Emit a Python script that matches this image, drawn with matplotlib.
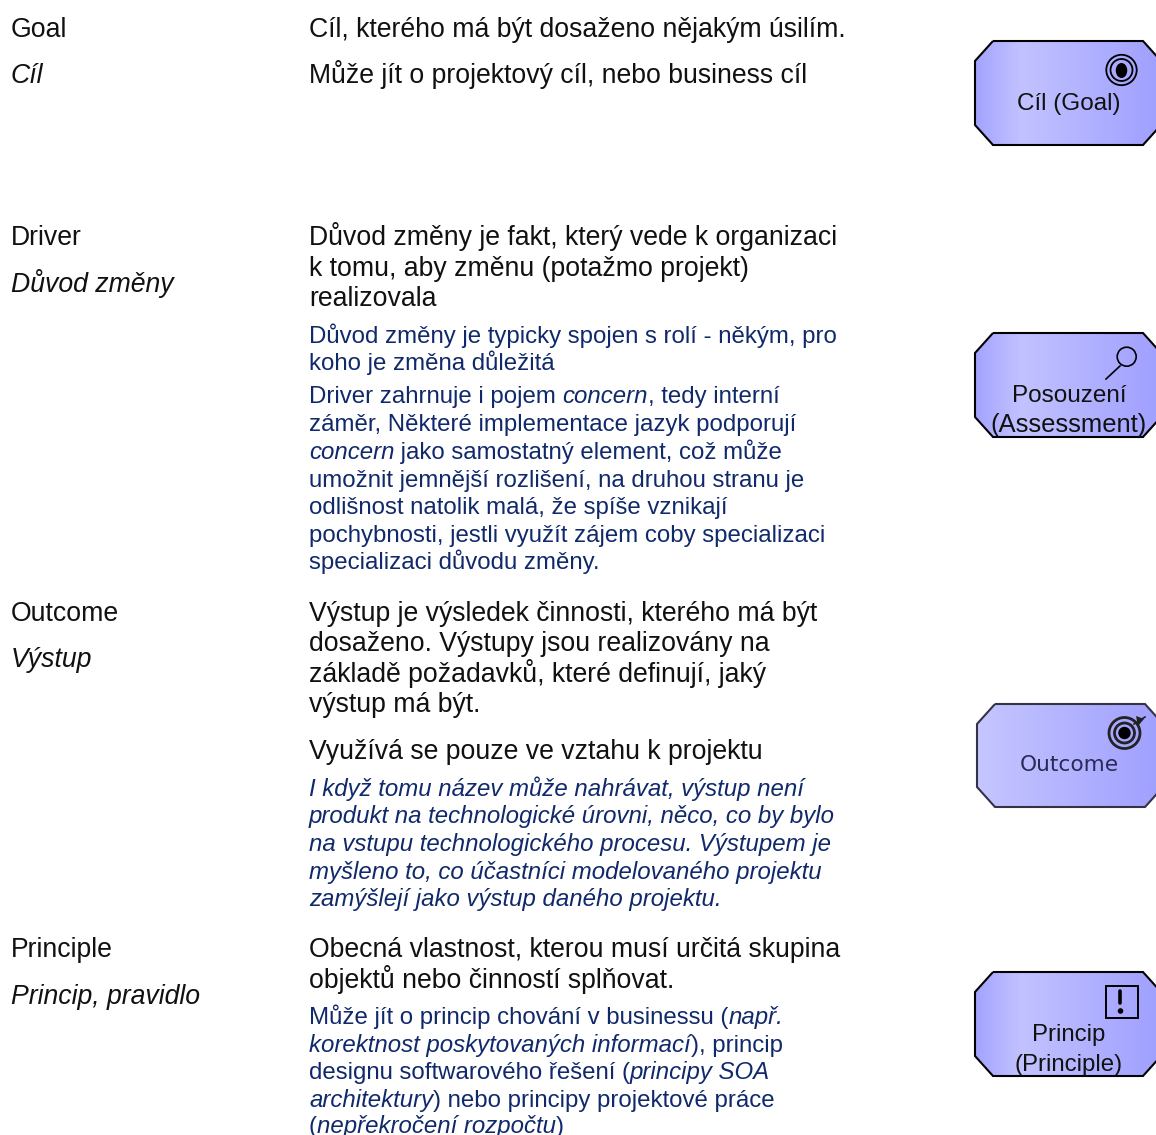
import matplotlib
matplotlib.use("Agg")
import matplotlib.pyplot as plt
import numpy as np
from matplotlib.colors import LinearSegmentedColormap
from matplotlib.patches import Circle, Ellipse, Polygon, Rectangle

W, H = 1156, 1135
NAVY = "#10296b"
BIG = 26.6
SMALL = 24.0
plt.rcParams["font.family"] = ["Liberation Sans", "DejaVu Sans"]

# left column: term and its czech name
terms = ["Goal", "Driver", "Outcome", "Principle"]
terms_cz = ["Cíl", "Důvod změny", "Výstup", "Princip, pravidlo"]
term_y = [37, 245, 621, 957]
term_cz_y = [83, 292, 667, 1004]

# right column, black lines
big_lines = ["Cíl, kterého má být dosaženo nějakým úsilím.",
             "Může jít o projektový cíl, nebo business cíl",
             "Důvod změny je fakt, který vede k organizaci",
             "k tomu, aby změnu (potažmo projekt)",
             "realizovala",
             "Výstup je výsledek činnosti, kterého má být",
             "dosaženo. Výstupy jsou realizovány na",
             "základě požadavků, které definují, jaký",
             "výstup má být.",
             "Využívá se pouze ve vztahu k projektu",
             "Obecná vlastnost, kterou musí určitá skupina",
             "objektů nebo činností splňovat."]
big_y = [37, 83, 245, 276, 306, 621, 651, 682, 712, 759, 957, 988]

# right column, small blue lines as (text, italic) runs
small_lines = [
    [("Důvod změny je typicky spojen s rolí - někým, pro", False)],
    [("koho je změna důležitá", False)],
    [("Driver zahrnuje i pojem ", False), ("concern", True), (", tedy interní", False)],
    [("záměr, Některé implementace jazyk podporují", False)],
    [("concern", True), (" jako samostatný element, což může", False)],
    [("umožnit jemnější rozlišení, na druhou stranu je", False)],
    [("odlišnost natolik malá, že spíše vznikají", False)],
    [("pochybnosti, jestli využít zájem coby specializaci", False)],
    [("specializaci důvodu změny.", False)],
    [("I když tomu název může nahrávat, výstup není", True)],
    [("produkt na technologické úrovni, něco, co by bylo", True)],
    [("na vstupu technologického procesu. Výstupem je", True)],
    [("myšleno to, co účastníci modelovaného projektu", True)],
    [("zamýšlejí jako výstup daného projektu.", True)],
    [("Může jít o princip chování v businessu (", False), ("např.", True)],
    [("korektnost poskytovaných informací", True), ("), princip", False)],
    [("designu softwarového řešení (", False), ("principy SOA", True)],
    [("architektury", True), (") nebo principy projektové práce", False)],
    [("(", False), ("nepřekročení rozpočtu", True), (")", False)],
]
small_y = [343, 370, 403, 431, 459, 487, 514, 542, 569,
           796, 823, 851, 879, 906, 1024, 1052, 1079, 1107, 1133]

# element boxes on the right
box_left = [975, 975, 977, 975]
box_top = [41, 333, 704, 972]
box_bottom = [145, 437, 807, 1076]
box_labels = [["Cíl (Goal)"], ["Posouzení", "(Assessment)"], ["Outcome"], ["Princip", "(Principle)"]]
label_y = [[110], [402, 432], [771], [1041, 1071]]
label_size = [[24.3], [24.3, 25.6], [21.6], [24.0, 24.0]]

fig = plt.figure(figsize=(W / 100, H / 100), dpi=100)
ax = fig.add_axes([0, 0, 1, 1])
ax.set_xlim(0, W)
ax.set_ylim(H, 0)
ax.axis("off")


def px(size):
    return size * 72 / 100


for name, y in zip(terms, term_y):
    ax.text(11, y, name, fontsize=px(BIG), va="baseline", color="#111111")
for name, y in zip(terms_cz, term_cz_y):
    ax.text(11, y, name, fontsize=px(BIG), va="baseline", style="italic", color="#111111")
for line, y in zip(big_lines, big_y):
    ax.text(309, y, line, fontsize=px(BIG), va="baseline", color="#111111")

fig.canvas.draw()
renderer = fig.canvas.get_renderer()
for runs, y in zip(small_lines, small_y):
    x = 309.0
    for txt, italic in runs:
        st = "italic" if italic else "normal"
        ax.text(x, y, txt, fontsize=px(SMALL), va="baseline", color=NAVY, style=st)
        # trailing spaces are not in the bbox, so measure with a marker
        probe = ax.text(0, 0, txt + "|", fontsize=px(SMALL), style=st)
        bar = ax.text(0, 0, "|", fontsize=px(SMALL), style=st)
        x += probe.get_window_extent(renderer).width - bar.get_window_extent(renderer).width
        probe.remove()
        bar.remove()

cmap_a = LinearSegmentedColormap.from_list("a", [(0, "#a3a3ff"), (0.25, "#c2c2ff"), (1, "#9f9fff")])
cmap_b = LinearSegmentedColormap.from_list("b", [(0, "#c6c6ff"), (1, "#9f9fff")])
grad = np.linspace(0, 1, 256).reshape(1, -1)

for i, (left, top, bottom) in enumerate(zip(box_left, box_top, box_bottom)):
    right = left + 186
    pts = [(left + 18, top), (right - 18, top), (right, top + 20), (right, bottom - 20),
           (right - 18, bottom), (left + 18, bottom), (left, bottom - 20), (left, top + 20)]
    edge = "#333344" if i == 2 else "black"
    ax.add_patch(Polygon(pts, closed=True, fc="none", ec=edge, lw=1.5, zorder=3))
    im = ax.imshow(grad, extent=[left, right, bottom, top], aspect="auto",
                   cmap=cmap_b if i == 2 else cmap_a, zorder=2)
    im.set_clip_path(Polygon(pts, closed=True, transform=ax.transData))
    for lab, y, size in zip(box_labels[i], label_y[i], label_size[i]):
        ax.text(1069, y, lab, fontsize=px(size), ha="center", va="baseline", zorder=5,
                color="#2a2a55" if i == 2 else "#111111",
                family="DejaVu Sans" if i == 2 else None)

ax.set_xlim(0, W)
ax.set_ylim(H, 0)

# goal icon
for r in [15.2, 11]:
    ax.add_patch(Circle((1121.5, 70), r, fc="none", ec="black", lw=1.3, zorder=6))
ax.add_patch(Ellipse((1121.5, 70.5), 11.5, 15, fc="black", ec="none", zorder=6))

# assessment icon
ax.add_patch(Circle((1126.7, 356.7), 9.5, fc="none", ec="black", lw=1.2, zorder=6))
ax.plot([1106, 1120], [379, 366], color="black", lw=1.2, zorder=6)

# outcome icon
for r, lw in [(15.5, 2.0), (10, 2.0)]:
    ax.add_patch(Circle((1124.5, 733), r, fc="none", ec="#222222", lw=lw, zorder=6))
ax.add_patch(Circle((1124.5, 733), 5.5, fc="black", ec="black", zorder=6))
ax.plot([1134, 1145], [724, 717], color="#222222", lw=1.2, zorder=6)
ax.add_patch(Polygon([(1136, 716), (1144, 719), (1138, 726)], closed=True, fc="#222222", ec="none", zorder=6))

# principle icon
ax.add_patch(Rectangle((1105.5, 986), 32.5, 32, fc="none", ec="black", lw=1.4, zorder=6))
ax.plot([1120, 1120], [991, 1003], color="black", lw=2.6, zorder=6, solid_capstyle="round")
ax.add_patch(Circle((1120.5, 1011), 2.8, fc="black", ec="black", lw=0, zorder=6))

fig.savefig("out.png", dpi=100)
